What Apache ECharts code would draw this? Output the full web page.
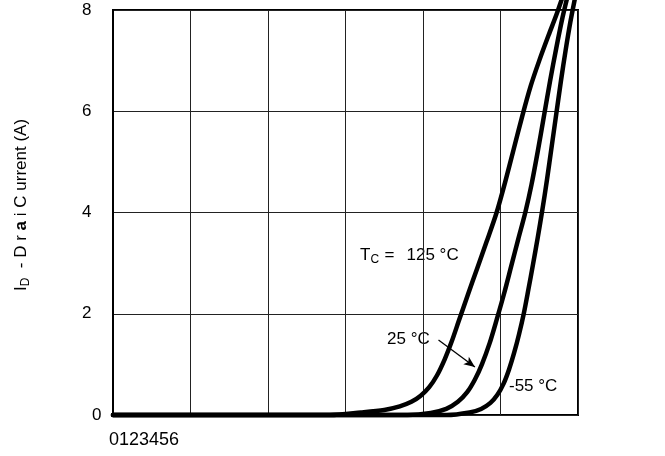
<!DOCTYPE html>
<html>
<head>
<meta charset="utf-8">
<script src="https://cdn.jsdelivr.net/npm/echarts@6/dist/echarts.min.js"></script>
<style>
  html, body { margin: 0; padding: 0; background: #fff; }
  #chart { width: 665px; height: 456px; }
</style>
</head>
<body>
<div id="chart"></div>
<script>
// Transfer characteristics: drain current vs gate-source voltage at three case temperatures
const xTickLabels = ['0', '1', '2', '3', '4', '5', '6'];
const yTicks = [0, 2, 4, 6, 8];

const vgs125 = [0, 2.8, 3.2, 3.5, 3.7, 3.85, 3.97, 4.08, 4.18, 4.28, 4.37, 4.46, 4.58, 4.7, 4.82, 4.95, 5.06, 5.17, 5.28, 5.39, 5.5, 5.62, 5.72, 5.81];
const id125  = [0, 0,   0.05, 0.1, 0.17, 0.26, 0.38, 0.55, 0.78, 1.1, 1.45, 1.85, 2.38, 2.9, 3.42, 4.0, 4.6, 5.25, 5.9, 6.5, 7.0, 7.5, 7.9, 8.3];

const vgs25 = [0, 3.8, 4.1, 4.3, 4.45, 4.57, 4.67, 4.76, 4.86, 4.95, 5.05, 5.14, 5.23, 5.32, 5.4, 5.48, 5.56, 5.64, 5.72, 5.8, 5.87];
const id25  = [0, 0,   0.04, 0.12, 0.26, 0.45, 0.7, 1.0, 1.42, 1.88, 2.42, 2.95, 3.48, 4.0, 4.55, 5.2, 5.9, 6.6, 7.25, 7.85, 8.3];

const vgsM55 = [0, 4.3, 4.6, 4.75, 4.87, 4.96, 5.04, 5.11, 5.18, 5.24, 5.3, 5.36, 5.42, 5.48, 5.54, 5.6, 5.66, 5.72, 5.78, 5.84, 5.9, 5.97];
const idM55  = [0, 0,   0.05, 0.12, 0.24, 0.4, 0.62, 0.9, 1.25, 1.6, 2.0, 2.48, 2.98, 3.5, 4.05, 4.65, 5.3, 5.95, 6.6, 7.2, 7.75, 8.3];

const FAMILY = '"Liberation Sans", Arial, Helvetica, sans-serif';
const FS = 17;

function pairs(xs, ys) { return xs.map((x, i) => [x, ys[i]]); }

const measureCtx = document.createElement('canvas').getContext('2d');
function textWidth(t, size, weight) {
  measureCtx.font = (weight || 'normal') + ' ' + size + 'px ' + FAMILY;
  return measureCtx.measureText(t).width;
}

// Rotated y-axis title built from pieces (subscript and bold letter)
function yTitle() {
  const parts = [
    { t: 'I', size: FS, dy: 0 },
    { t: 'D', size: 12, dy: 5 },
    { t: '  - D r ', size: FS, dy: 0 },
    { t: 'a', size: FS, dy: 0, weight: 'bold' },
    { t: ' i C urrent (A)', size: FS, dy: 0 }
  ];
  let x = 0;
  const children = parts.map(p => {
    const el = {
      type: 'text', x: x, y: p.dy,
      style: {
        text: p.t, fill: '#000',
        font: (p.weight || 'normal') + ' ' + p.size + 'px ' + FAMILY,
        textAlign: 'left', textVerticalAlign: 'middle'
      }
    };
    x += textWidth(p.t, p.size, p.weight);
    return el;
  });
  return { type: 'group', x: 21, y: 291, rotation: Math.PI / 2, children: children, silent: true };
}

function txt(t, x, y, size) {
  return {
    type: 'text', x: x, y: y, silent: true,
    style: { text: t, fill: '#000', font: (size || FS) + 'px ' + FAMILY,
             textAlign: 'left', textVerticalAlign: 'middle' }
  };
}

const curveStyle = { color: '#000', width: 4.5, cap: 'round', join: 'round' };
function curve(name, xs, ys, extra) {
  return Object.assign({
    name: name, type: 'line', data: pairs(xs, ys),
    showSymbol: false, symbol: 'none', smooth: 0.3,
    clip: false, lineStyle: curveStyle, itemStyle: { color: '#000' },
    silent: true, animation: false
  }, extra || {});
}

const chart = echarts.init(document.getElementById('chart'), null, { renderer: 'canvas' });
chart.setOption({
  animation: false,
  backgroundColor: '#fff',
  grid: { left: 113, right: 87, top: 10, bottom: 41, show: true,
          borderColor: '#000', borderWidth: 2, backgroundColor: 'transparent' },
  xAxis: {
    type: 'value', min: 0, max: 6, interval: 1,
    axisLine: { show: false }, axisTick: { show: false },
    axisLabel: { show: false },
    splitLine: { show: true, lineStyle: { color: '#222', width: 1 } }
  },
  yAxis: {
    type: 'value', min: 0, max: 8, interval: 2,
    axisLine: { show: true, lineStyle: { color: '#000', width: 2 } },
    axisTick: { show: false },
    axisLabel: {
      show: true, color: '#000', fontSize: FS, fontFamily: FAMILY,
      align: 'left', margin: 31,
      formatter: v => yTicks.indexOf(v) < 0 ? '' : (v === 0 ? '{z|0}' : String(v)),
      rich: { z: { fontSize: FS, fontFamily: FAMILY, color: '#000', padding: [0, 0, 0, 10] } }
    },
    splitLine: { show: true, lineStyle: { color: '#222', width: 1 } }
  },
  series: [
    curve('125 °C', vgs125, id125),
    curve('25 °C', vgs25, id25, {
      markLine: {
        silent: true, symbol: ['none', 'arrow'], symbolSize: [7, 11],
        lineStyle: { color: '#000', width: 1.3, type: 'solid' },
        label: { show: false },
        data: [[{ coord: [4.2, 1.48] }, { coord: [4.67, 0.95] }]]
      }
    }),
    curve('-55 °C', vgsM55, idM55)
  ],
  graphic: [
    yTitle(),
    txt(xTickLabels.join(''), 109, 440, 18),
    txt('T', 360, 255),
    txt('C', 370.5, 260, 12),
    txt('=', 384.5, 255),
    txt('125 °C', 406.5, 255),
    txt('25 °C', 387, 339),
    txt('-55 °C', 509, 386)
  ]
});
</script>
</body>
</html>
